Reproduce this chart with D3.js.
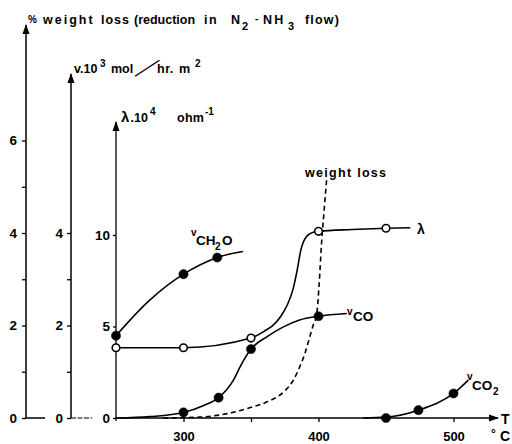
<!DOCTYPE html>
<html><head><meta charset="utf-8">
<script src="https://cdn.jsdelivr.net/npm/d3@7"></script>
<style>
body{margin:0;background:#fff;}
svg{display:block;}
text{font-family:"Liberation Sans",Arial,sans-serif;font-weight:bold;fill:#000;}
</style>
</head><body>
<svg id="c" width="512" height="444"></svg>
<script>
// ---- data ----
const tempTicks = [300, 350, 400, 450, 500];
const tempTickLabels = ["300", "", "400", "", "500"];
const weightTicks = [0, 1, 2, 3, 4, 5, 6];
const weightTickLabels = ["0", "", "2", "", "4", "", "6"];
const rateTicks = [0, 1, 2, 3, 4];
const rateTickLabels = ["0", "", "2", "", "4"];
const lambdaTicks = [0, 5, 10];
const lambdaTickLabels = ["0", "5", "10"];

// v_CH2O (filled markers) and its drawn curve
const ch2oT = [250, 300, 325];
const ch2oV = [1.78, 3.11, 3.47];
const ch2oCurveT = [250, 275, 300, 325, 344];
const ch2oCurveV = [1.78, 2.55, 3.11, 3.47, 3.6];

// lambda (open markers) and its drawn curve
const lamT = [250, 300, 350, 400, 450];
const lamV = [3.84, 3.84, 4.37, 10.2, 10.37];
const lamCurveT = [250, 300, 350, 360, 366, 372, 377, 381, 384, 387, 391, 396, 400, 425, 450, 468];
const lamCurveV = [3.84, 3.84, 4.37, 4.75, 5.05, 5.55, 6.2, 7.0, 8.0, 9.2, 9.9, 10.15, 10.2, 10.3, 10.37, 10.4];

// v_CO (filled markers) and its drawn curve
const coT = [300, 326, 350, 400];
const coV = [0.12, 0.44, 1.49, 2.2];
const coCurveT = [250, 275, 300, 315, 326, 337, 342, 350, 362, 374, 386, 400, 421];
const coCurveV = [0, 0.03, 0.12, 0.27, 0.44, 0.82, 1.11, 1.49, 1.76, 1.97, 2.12, 2.2, 2.26];

// v_CO2 (filled markers) and its drawn curve
const co2T = [450, 474, 500];
const co2V = [0, 0.17, 0.53];
const co2CurveT = [433, 450, 474, 500, 511];
const co2CurveV = [0, 0.02, 0.17, 0.53, 0.82];

// weight loss (dashed curve)
const wlT = [285, 312, 330, 349, 362, 374, 381, 386, 390, 393, 396, 398.6, 400.5, 402.3, 404.2, 406];
const wlV = [0, 0.02, 0.08, 0.22, 0.35, 0.56, 0.8, 1.1, 1.4, 1.7, 2.0, 2.23, 2.9, 3.8, 4.5, 5.15];

// ---- scales ----
const svg = d3.select("#c");
const x = d3.scaleLinear().domain([250, 500]).range([116, 453.5]);
const yW = d3.scaleLinear().domain([0, 6]).range([418, 140.5]);
const yV = d3.scaleLinear().domain([0, 4]).range([418, 233]);
const yL = d3.scaleLinear().domain([0, 10]).range([418, 235]);

// arrow marker
const defs = svg.append("defs");
defs.append("marker").attr("id", "arr").attr("viewBox", "0 0 10 10")
  .attr("refX", 9).attr("refY", 5).attr("markerWidth", 10).attr("markerHeight", 10)
  .attr("markerUnits", "userSpaceOnUse").attr("orient", "auto")
  .append("path").attr("d", "M0,1.5 L10,5 L0,8.5 Z").attr("fill", "#000");

function styleAxis(g, size) {
  g.select(".domain").remove();
  g.selectAll(".tick line").attr("stroke", "#000").attr("stroke-width", 1.3);
  g.selectAll(".tick text").style("font-size", size + "px").style("font-family", '"Liberation Sans",Arial,sans-serif').style("font-weight", "bold");
}

// outer axis (% weight loss)
const gW = svg.append("g").attr("transform", "translate(26,0)")
  .call(d3.axisLeft(yW).tickValues(weightTicks).tickFormat((d, i) => weightTickLabels[i]).tickSize(4).tickPadding(5));
styleAxis(gW, 13.5);
svg.append("line").attr("x1", 26).attr("y1", 418).attr("x2", 26).attr("y2", 25)
  .attr("stroke", "#000").attr("stroke-width", 1.5).attr("marker-end", "url(#arr)");
svg.append("line").attr("x1", 26).attr("y1", 418).attr("x2", 45).attr("y2", 418)
  .attr("stroke", "#000").attr("stroke-width", 1.5);

// middle axis (v)
const gV = svg.append("g").attr("transform", "translate(71,0)")
  .call(d3.axisLeft(yV).tickValues(rateTicks).tickFormat((d, i) => rateTickLabels[i]).tickSize(4).tickPadding(4));
styleAxis(gV, 13.5);
svg.append("line").attr("x1", 71).attr("y1", 418).attr("x2", 71).attr("y2", 74)
  .attr("stroke", "#000").attr("stroke-width", 1.5).attr("marker-end", "url(#arr)");
svg.append("line").attr("x1", 71).attr("y1", 418).attr("x2", 92).attr("y2", 418)
  .attr("stroke", "#000").attr("stroke-width", 1.2).attr("stroke-dasharray", "5,1.5");

// inner axis (lambda)
const gL = svg.append("g").attr("transform", "translate(116,0)")
  .call(d3.axisLeft(yL).tickValues(lambdaTicks).tickFormat((d, i) => lambdaTickLabels[i]).tickSize(3).tickPadding(3));
styleAxis(gL, 13.5);
svg.append("line").attr("x1", 116).attr("y1", 421).attr("x2", 116).attr("y2", 122)
  .attr("stroke", "#000").attr("stroke-width", 1.3).attr("marker-end", "url(#arr)");

// x axis
const gX = svg.append("g").attr("transform", "translate(0,418)")
  .call(d3.axisBottom(x).tickValues(tempTicks).tickFormat((d, i) => tempTickLabels[i]).tickSize(4).tickPadding(10));
styleAxis(gX, 13);
svg.append("line").attr("x1", 116).attr("y1", 418).attr("x2", 498).attr("y2", 418)
  .attr("stroke", "#000").attr("stroke-width", 1.5).attr("marker-end", "url(#arr)");

// ---- curves ----
function zip(a, b) { return a.map((t, i) => [t, b[i]]); }
function drawCurve(T, V, ys, curve, dash) {
  const line = d3.line().x(d => x(d[0])).y(d => ys(d[1])).curve(curve);
  svg.append("path").attr("d", line(zip(T, V))).attr("fill", "none")
    .attr("stroke", "#000").attr("stroke-width", 1.6)
    .attr("stroke-dasharray", dash || null);
}
drawCurve(wlT, wlV, yW, d3.curveMonotoneX, "5,3.5");
drawCurve(ch2oCurveT, ch2oCurveV, yV, d3.curveCatmullRom);
drawCurve(lamCurveT, lamCurveV, yL, d3.curveMonotoneX);
drawCurve(coCurveT, coCurveV, yV, d3.curveMonotoneX);
drawCurve(co2CurveT, co2CurveV, yV, d3.curveMonotoneX);

function dots(T, V, ys, open) {
  svg.append("g").selectAll("circle").data(zip(T, V)).join("circle")
    .attr("cx", d => x(d[0])).attr("cy", d => ys(d[1]))
    .attr("r", open ? 3.8 : 4.6)
    .attr("fill", open ? "#fff" : "#000")
    .attr("stroke", "#000").attr("stroke-width", open ? 1.6 : 0.5);
}
dots(ch2oT, ch2oV, yV, false);
dots(coT, coV, yV, false);
dots(co2T, co2V, yV, false);
dots(lamT, lamV, yL, true);

// ---- text labels ----
function label(parts, size) {
  const t = svg.append("text").style("font-size", size + "px");
  parts.forEach(p => {
    const s = t.append("tspan").text(p.t);
    if (p.x !== undefined) s.attr("x", p.x);
    if (p.y !== undefined) s.attr("y", p.y);
    if (p.s) s.style("font-size", p.s + "px");
    if (p.ls !== undefined) s.style("letter-spacing", p.ls + "px");
  });
  return t;
}

// title of outer axis
label([
  {t: "%", x: 28, y: 23, s: 10},
  {t: "weight", x: 43, y: 24, ls: 2},
  {t: "loss", x: 101, y: 24, ls: 1},
  {t: "(reduction", x: 134, y: 24, ls: 0},
  {t: "in", x: 204, y: 24, ls: 1.5},
  {t: "N", x: 231, y: 24},
  {t: "2", x: 242, y: 30, s: 11},
  {t: "-", x: 255, y: 22, s: 10},
  {t: "NH", x: 263, y: 24, ls: 2.2},
  {t: "3", x: 288, y: 30, s: 11},
  {t: "flow)", x: 305, y: 24, ls: 1.2}
], 12.5);

// v axis title
label([
  {t: "v.10", x: 74, y: 73, ls: 0},
  {t: "3", x: 100, y: 67, s: 10},
  {t: "mol", x: 111, y: 73, ls: 0},
  {t: "hr.", x: 157, y: 73, ls: 0.5},
  {t: "m", x: 179, y: 73},
  {t: "2", x: 195, y: 67, s: 10}
], 12.5);
svg.append("text").text("/")
  .attr("transform", "translate(147,68.5) rotate(-31) scale(2.4,1) rotate(70)")
  .attr("text-anchor", "middle").attr("dy", "0.35em")
  .style("font-size", "16px").style("font-weight", "normal");

// lambda axis title
label([
  {t: "λ", x: 121, y: 122, s: 15},
  {t: ".10", x: 130.5, y: 122},
  {t: "4", x: 150, y: 115, s: 10},
  {t: "ohm", x: 177, y: 122, ls: 0.3},
  {t: "-1", x: 205, y: 115, s: 10}
], 12.5);

// series labels
label([
  {t: "v", x: 191, y: 236, s: 10},
  {t: "CH", x: 196, y: 245},
  {t: "2", x: 215, y: 250, s: 10},
  {t: "O", x: 222, y: 245}
], 13.5);
label([
  {t: "v", x: 347, y: 315, s: 10},
  {t: "CO", x: 353, y: 321}
], 13.5);
label([
  {t: "v", x: 467, y: 380, s: 10},
  {t: "CO", x: 472, y: 390},
  {t: "2", x: 493, y: 395, s: 10}
], 13.5);
label([{t: "λ", x: 417, y: 234}], 14);
label([{t: "weight  loss", x: 305, y: 177, ls: 1.3}], 12.5);
label([{t: "T", x: 501, y: 424}], 14);
label([{t: "°", x: 491, y: 438, s: 12}, {t: "C", x: 500, y: 441}], 14);
</script>
</body></html>
